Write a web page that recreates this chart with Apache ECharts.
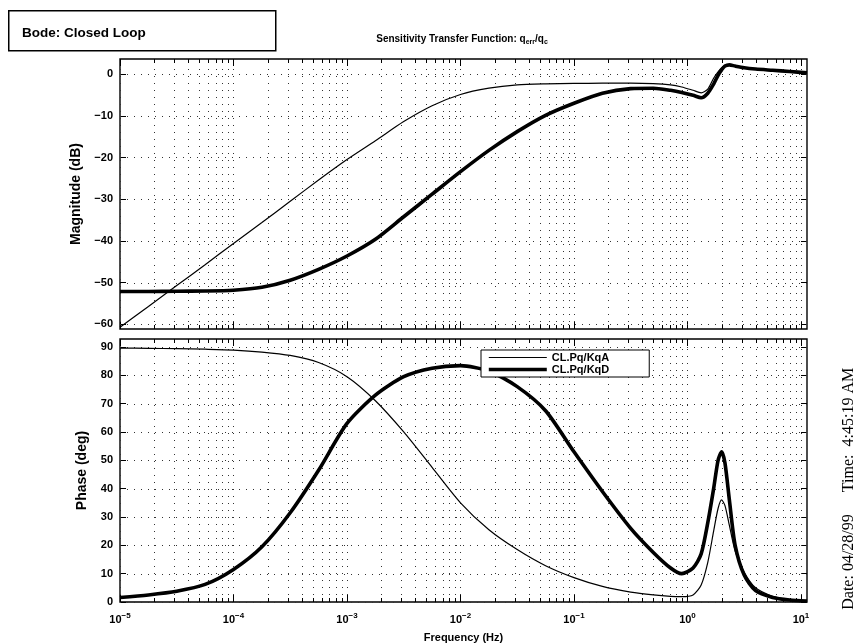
<!DOCTYPE html>
<html>
<head>
<meta charset="utf-8">
<title>Bode: Closed Loop</title>
<script src="https://cdn.jsdelivr.net/npm/echarts@6/dist/echarts.min.js"></script>
<style>
  html, body { margin: 0; padding: 0; background: #fff; }
  #chart { width: 856px; height: 644px; }
</style>
</head>
<body>
<div id="chart"></div>
<script>
// Frequency points (Hz) shared by all four traces
const freqHz = [0.00001, 0.0000178, 0.0000316, 0.0000562, 0.0001, 0.000178, 0.000316, 0.000562,
  0.001, 0.00178, 0.00316, 0.00562, 0.01, 0.0178, 0.0316, 0.0562, 0.1, 0.178, 0.316, 0.5,
  0.71, 0.89, 1.12, 1.32, 1.51, 1.7, 1.86, 2.0, 2.14, 2.34, 2.63, 3.16, 3.98, 5.62, 7.94, 11.3];

// Magnitude (dB)
const magKqA = [-60.7, -55.7, -50.7, -45.7, -40.6, -35.6, -30.5, -25.4, -20.5, -16.0, -11.4, -7.6,
  -4.9, -3.4, -2.6, -2.35, -2.25, -2.2, -2.2, -2.3, -2.6, -3.1, -3.9, -4.5, -3.6, -1.0, 0.5, 1.5,
  2.1, 2.2, 1.9, 1.5, 1.2, 0.9, 0.6, 0.3];
const magKqD = [-52.1, -52.1, -52.05, -52.0, -51.8, -51.1, -49.4, -46.8, -43.6, -39.6, -34.2, -28.8,
  -23.4, -18.3, -13.8, -9.9, -7.0, -4.6, -3.5, -3.4, -3.9, -4.4, -5.1, -5.7, -4.6, -2.4, -0.3, 1.0,
  1.9, 2.2, 1.9, 1.5, 1.2, 0.9, 0.6, 0.3];

// Phase (deg)
const phaseKqA = [89.6, 89.5, 89.4, 89.2, 88.9, 88.2, 87.0, 84.5, 79.5, 71.0, 60.0, 47.5,
  35.0, 25.5, 18.5, 12.8, 8.6, 5.5, 3.5, 2.5, 2.0, 1.9, 2.5, 6.0, 14.0, 25.0, 33.0, 36.0,
  34.0, 27.0, 18.0, 10.5, 5.0, 2.0, 0.8, 0.3];
const phaseKqD = [1.6, 2.5, 3.8, 6.2, 11.5, 19.5, 31.5, 46.5, 63.0, 73.0, 79.5, 82.5,
  83.4, 81.5, 76.0, 67.5, 53.0, 39.0, 26.0, 17.5, 12.0, 10.0, 12.0, 17.0, 28.0, 40.0, 50.0, 53.0,
  49.0, 36.0, 20.0, 9.5, 4.0, 1.6, 0.7, 0.3];

const seriesNames = ['CL.Pq/KqA', 'CL.Pq/KqD'];
const lineWidths = [1.2, 3.6];

// Axis limits and tick labels
const freqMin = 0.00001, freqMax = 11.3;
const magMin = -61.1, magMax = 3.6;
const phaseMin = 0, phaseMax = 92.8;
const decadeTicks = [0.00001, 0.0001, 0.001, 0.01, 0.1, 1, 10];
const magTicks = [-60, -50, -40, -30, -20, -10, 0];
const phaseTicks = [0, 10, 20, 30, 40, 50, 60, 70, 80, 90];

// 1..9 times every decade: positions of the log grid lines
const logGridFreqs = [];
decadeTicks.slice(0, -1).forEach(d => { for (let k = 1; k <= 9; k++) logGridFreqs.push(+(d * k).toPrecision(3)); });
logGridFreqs.push(10);

const FONT = '"Liberation Sans", Arial, Helvetica, sans-serif';
const pairs = vals => freqHz.map((f, i) => [f, vals[i]]);
const isDecade = f => Math.abs(Math.log10(f) - Math.round(Math.log10(f))) < 1e-6;
const crisp = v => Math.round(v) + 0.5;
const DOT = { stroke: '#333', lineWidth: 1, lineDash: [1, 6] };

function verticalGrid(yLo, yHi) {
  return function (params, api) {
    const f = api.value(0);
    const p0 = api.coord([f, yLo]);
    const p1 = api.coord([f, yHi]);
    const x = crisp(p0[0]);
    const len = isDecade(f) ? 7 : 4;
    return {
      type: 'group',
      children: [
        { type: 'line', shape: { x1: x, y1: p0[1], x2: x, y2: p1[1] }, style: DOT },
        { type: 'line', shape: { x1: x, y1: p0[1], x2: x, y2: p0[1] - len },
          style: { stroke: '#000', lineWidth: 1 } },
        { type: 'line', shape: { x1: x, y1: p1[1], x2: x, y2: p1[1] + len },
          style: { stroke: '#000', lineWidth: 1 } }
      ]
    };
  };
}
function horizontalGrid(params, api) {
  const v = api.value(1);
  const p0 = api.coord([freqMin, v]);
  const p1 = api.coord([freqMax, v]);
  const y = crisp(p0[1]);
  return { type: 'line', shape: { x1: p0[0], y1: y, x2: p1[0], y2: y }, style: DOT };
}

function decadeLabel(v) {
  if (!isDecade(v)) return '';
  const e = Math.round(Math.log10(v));
  return '{b|10}{s|' + (e < 0 ? '\u2212' + (-e) : e) + '}';
}
const minusFmt = v => (v < 0 ? '\u2212' + (-v) : '' + v);

const chart = echarts.init(document.getElementById('chart'), null, { renderer: 'canvas' });

const grids = [
  { left: 120, top: 59, width: 687, height: 270, show: true, borderColor: '#000', borderWidth: 1.4, backgroundColor: 'transparent' },
  { left: 120, top: 339, width: 687, height: 268, show: true, borderColor: '#000', borderWidth: 1.4, backgroundColor: 'transparent' }
];

const xAxisBase = {
  type: 'log', logBase: 10, min: freqMin, max: freqMax,
  axisLine: { show: false }, axisTick: { show: false }, splitLine: { show: false }
};
const xAxes = [
  Object.assign({}, xAxisBase, { gridIndex: 0, axisLabel: { show: false } }),
  Object.assign({}, xAxisBase, {
    gridIndex: 1,
    name: 'Frequency (Hz)', nameLocation: 'middle', nameGap: 30,
    nameTextStyle: { fontFamily: FONT, fontSize: 11, fontWeight: 'bold', color: '#000' },
    axisLabel: {
      show: true, margin: 10, customValues: decadeTicks, formatter: decadeLabel,
      rich: {
        b: { fontFamily: FONT, fontSize: 11, fontWeight: 'bold', color: '#000' },
        s: { fontFamily: FONT, fontSize: 8, fontWeight: 'bold', color: '#000', padding: [0, 0, 8, 0] }
      }
    }
  })
];

function yAxisPair(gridIndex, min, max, ticks, name) {
  const labelStyle = { fontFamily: FONT, fontSize: 11, fontWeight: 'bold', color: '#000' };
  return [
    {
      type: 'value', gridIndex, min, max, position: 'left',
      name, nameLocation: 'middle', nameGap: 31, nameRotate: 90,
      nameTextStyle: { fontFamily: FONT, fontSize: 14, fontWeight: 'bold', color: '#000' },
      axisLine: { show: false }, splitLine: { show: false },
      axisTick: { show: true, inside: true, length: 6, customValues: ticks, lineStyle: { color: '#000', width: 1 } },
      axisLabel: Object.assign({ show: true, margin: 7, customValues: ticks, formatter: minusFmt }, labelStyle)
    },
    {
      type: 'value', gridIndex, min, max, position: 'right',
      axisLine: { show: false }, splitLine: { show: false },
      axisTick: { show: true, inside: true, length: 6, customValues: ticks, lineStyle: { color: '#000', width: 1 } },
      axisLabel: { show: false }
    }
  ];
}
const yAxes = [].concat(
  yAxisPair(0, magMin, magMax, magTicks, 'Magnitude (dB)'),
  yAxisPair(1, phaseMin, phaseMax, phaseTicks, 'Phase (deg)')
);

function traceSeries(idx, vals, xi, yi) {
  return {
    type: 'line', name: seriesNames[idx], xAxisIndex: xi, yAxisIndex: yi, data: pairs(vals),
    showSymbol: false, symbol: 'none', smooth: 0.25,
    lineStyle: { color: '#000', width: lineWidths[idx] }, itemStyle: { color: '#000' },
    z: 5, animation: false, silent: true
  };
}

const option = {
  animation: false,
  backgroundColor: '#fff',
  title: {
    text: '{a|Sensitivity Transfer Function: q}{sub|err}{a|/q}{sub|c}',
    left: 457, top: 28, textAlign: 'center',
    textStyle: {
      rich: {
        a: { fontFamily: FONT, fontSize: 10, fontWeight: 'bold', color: '#000' },
        sub: { fontFamily: FONT, fontSize: 7, fontWeight: 'bold', color: '#000', padding: [6, 0, 0, 0] }
      }
    }
  },
  legend: {
    data: seriesNames.map((name, i) => ({ name, lineStyle: { color: '#000', width: lineWidths[i] } })),
    left: 481, top: 350, orient: 'vertical',
    itemWidth: 58, itemHeight: 12, itemGap: 1, padding: [2, 40, 2, 6],
    borderColor: '#000', borderWidth: 1, backgroundColor: '#fff', borderRadius: 0,
    itemStyle: { opacity: 0, borderWidth: 0 },
    textStyle: { fontFamily: FONT, fontSize: 11, fontWeight: 'bold', color: '#000' },
    selectedMode: false, z: 10
  },
  grid: grids,
  xAxis: xAxes,
  yAxis: yAxes,
  series: [
    { type: 'custom', name: 'vgrid-mag', xAxisIndex: 0, yAxisIndex: 0, renderItem: verticalGrid(magMin, magMax),
      data: logGridFreqs.map(f => [f, magMin]), silent: true, z: 1, clip: false },
    { type: 'custom', name: 'hgrid-mag', xAxisIndex: 0, yAxisIndex: 0, renderItem: horizontalGrid,
      data: magTicks.map(v => [freqMin, v]), silent: true, z: 1, clip: false },
    { type: 'custom', name: 'vgrid-phase', xAxisIndex: 1, yAxisIndex: 2, renderItem: verticalGrid(phaseMin, phaseMax),
      data: logGridFreqs.map(f => [f, phaseMin]), silent: true, z: 1, clip: false },
    { type: 'custom', name: 'hgrid-phase', xAxisIndex: 1, yAxisIndex: 2, renderItem: horizontalGrid,
      data: phaseTicks.map(v => [freqMin, v]), silent: true, z: 1, clip: false },
    traceSeries(0, magKqA, 0, 0),
    traceSeries(1, magKqD, 0, 0),
    traceSeries(0, phaseKqA, 1, 2),
    traceSeries(1, phaseKqD, 1, 2)
  ],
  graphic: [
    { type: 'rect', left: 8, top: 10, shape: { width: 267, height: 40 },
      style: { fill: '#fff', stroke: '#000', lineWidth: 1.5 } },
    { type: 'text', left: 22, top: 26,
      style: { text: 'Bode: Closed Loop', font: 'bold 13.5px ' + FONT, fill: '#000' } },
    { type: 'text', x: 849, y: 562, rotation: Math.PI / 2,
      style: { text: 'Date: 04/28/99', font: '16px "Liberation Serif", "Times New Roman", serif', fill: '#000',
        align: 'center', verticalAlign: 'middle' } },
    { type: 'text', x: 849, y: 430, rotation: Math.PI / 2,
      style: { text: 'Time:  4:45:19 AM', font: '16px "Liberation Serif", "Times New Roman", serif', fill: '#000',
        align: 'center', verticalAlign: 'middle' } }
  ]
};

chart.setOption(option);
</script>
</body>
</html>
